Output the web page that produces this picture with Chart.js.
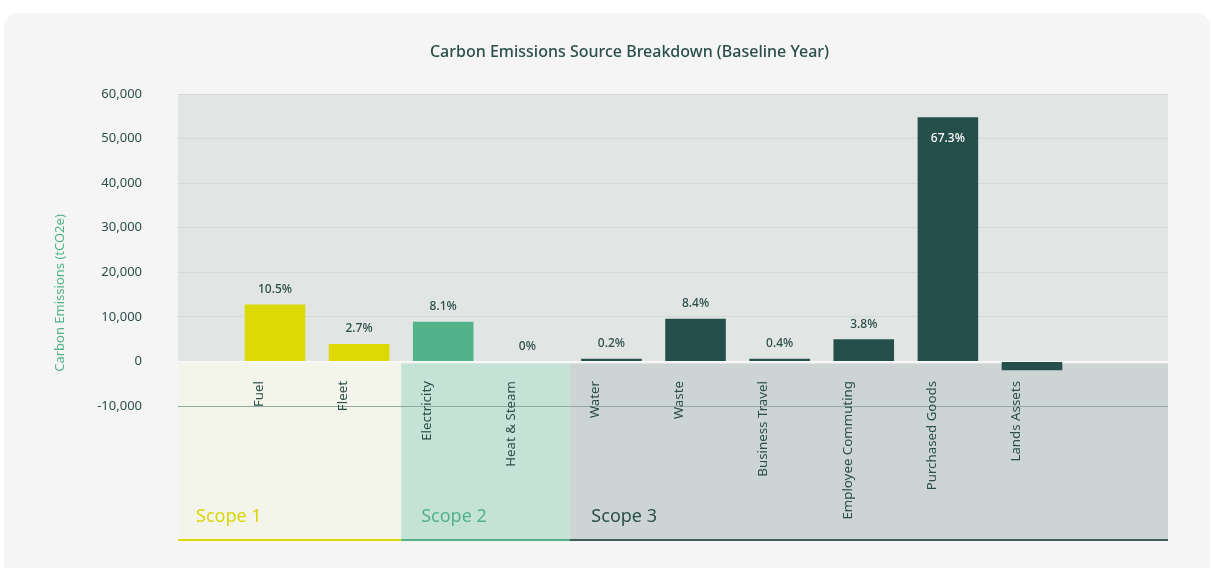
<!DOCTYPE html>
<html>
<head>
<meta charset="utf-8">
<script src="https://cdn.jsdelivr.net/npm/chart.js@4.4.1/dist/chart.umd.min.js"></script>
<style>
  body { margin: 0; background: #ffffff; overflow: hidden; }
  #card { position: absolute; left: 4px; top: 13px; width: 1206px; height: 600px; border-radius: 14px; background: #f5f5f5; }
  #emissionsChart { position: absolute; left: 0; top: 0; }
</style>
</head>
<body>
<div id="card"></div>
<canvas id="emissionsChart" width="1211" height="568"></canvas>

<script>
// values
var categories = ["Fuel", "Fleet", "Electricity", "Heat & Steam", "Water", "Waste",
  "Business Travel", "Employee Commuting", "Purchased Goods", "Lands Assets"];
var emissions = [12800, 3900, 8900, 0, 600, 9600, 600, 5000, 54800, -2000];
var shareLabels = ["10.5%", "2.7%", "8.1%", "0%", "0.2%", "8.4%", "0.4%", "3.8%", "67.3%", ""];
var scopeNames = ["Scope 1", "Scope 2", "Scope 3"];
var scopeOfCategory = [0, 0, 1, 1, 2, 2, 2, 2, 2, 2];
var yTicks = [-10000, 0, 10000, 20000, 30000, 40000, 50000, 60000];
var chartTitle = "Carbon Emissions Source Breakdown (Baseline Year)";
var yTitle = "Carbon Emissions (tCO2e)";

var barColors = ["#dcd906", "#52b38a", "#254f4a"];
var bandColors = ["#f4f5ea", "#c5e2d6", "#ccd5d3"];
var bandLineColors = ["#dcd906", "#52b38a", "#3d5f59"];
var scopeTextColors = ["#d9d60a", "#52b38a", "#2b4e48"];
var darkText = "#2b4e48";
var fontName = "'Noto Sans', sans-serif";

var scopeBands = {
  id: "scopeBands",
  beforeDraw: function(chart) {
    var ctx = chart.ctx, area = chart.chartArea;
    var x = chart.scales.x, y = chart.scales.y;
    var zeroY = y.getPixelForValue(0);
    var bandBottom = 540;
    ctx.save();
    // plot background above zero
    ctx.fillStyle = "#e1e5e4";
    ctx.fillRect(area.left, area.top, area.right - area.left, zeroY - area.top);
    // scope bands
    scopeNames.forEach(function(name, s) {
      var first = scopeOfCategory.indexOf(s);
      var last = scopeOfCategory.lastIndexOf(s);
      var left = first === 0 ? area.left : x.getPixelForValue(first - 0.5);
      var right = last === categories.length - 1 ? area.right : x.getPixelForValue(last + 0.5);
      ctx.fillStyle = bandColors[s];
      ctx.fillRect(left, zeroY + 2, right - left, bandBottom - zeroY - 2);
      ctx.fillStyle = bandLineColors[s];
      ctx.fillRect(left, bandBottom - 1, right - left, 2);
      ctx.fillStyle = scopeTextColors[s];
      ctx.font = "18px " + fontName;
      ctx.textAlign = "left";
      ctx.textBaseline = "middle";
      ctx.fillText(name, left + 18 + s * 2, 517);
    });
    // chart title, centred on the card
    ctx.fillStyle = darkText;
    ctx.font = "500 16px " + fontName;
    ctx.textAlign = "center";
    ctx.fillText(chartTitle, (chart.options.layout.padding.left + chart.width) / 2, 52);
    // y axis title
    ctx.translate(60, 293);
    ctx.rotate(-Math.PI / 2);
    ctx.fillStyle = "#52b38a";
    ctx.font = "13px " + fontName;
    ctx.fillText(yTitle, 0, 0);
    ctx.restore();
  },
  afterDatasetsDraw: function(chart) {
    var ctx = chart.ctx;
    var bars = chart.getDatasetMeta(0).data;
    ctx.save();
    ctx.font = "500 12px " + fontName;
    ctx.textAlign = "center";
    ctx.textBaseline = "middle";
    bars.forEach(function(bar, i) {
      if (emissions[i] < 0 || !shareLabels[i]) return;
      if (bar.base - bar.y > 80) {
        ctx.fillStyle = "#ffffff";
        ctx.fillText(shareLabels[i], bar.x, bar.y + 21);
      } else {
        ctx.fillStyle = darkText;
        ctx.fillText(shareLabels[i], bar.x, bar.y - 15);
      }
    });
    ctx.restore();
  }
};

var chart = new Chart("emissionsChart", {
  type: "bar",
  data: {
    datasets: [{
      data: emissions.map(function(v, i) { return { x: i, y: v }; }),
      backgroundColor: scopeOfCategory.map(function(s) { return barColors[s]; }),
      borderWidth: 0
    }]
  },
  options: {
    responsive: false,
    animation: false,
    devicePixelRatio: 1,
    layout: { padding: { left: 48, right: 43, top: 94, bottom: 0 } },
    plugins: {
      legend: { display: false },
      tooltip: { enabled: false },
      title: { display: false }
    },
    scales: {
      x: {
        type: "linear",
        offset: false,
        min: -1.153,
        max: 10.617,
        grid: { display: false, drawTicks: false },
        border: { display: false },
        afterBuildTicks: function(scale) {
          scale.ticks = categories.map(function(c, i) { return { value: i }; });
        },
        afterFit: function(scale) { scale.height = 162; },
        ticks: {
          autoSkip: false,
          minRotation: 90,
          maxRotation: 90,
          mirror: true,
          padding: 25,
          color: darkText,
          font: { family: fontName, size: 13.3 },
          callback: function(value) { return categories[value] || ""; }
        }
      },
      y: {
        min: -10000,
        max: 60000,
        afterBuildTicks: function(scale) {
          scale.ticks = yTicks.map(function(v) { return { value: v }; });
        },
        afterFit: function(scale) { scale.width = 130; },
        border: { display: false },
        grid: {
          drawTicks: false,
          color: function(c) {
            if (c.tick.value === 0) return "rgba(255,255,255,0.7)";
            if (c.tick.value === -10000) return "#93a9a2";
            return "#d4dad8";
          }
        },
        ticks: {
          padding: 36,
          color: darkText,
          font: { family: fontName, size: 13 },
          callback: function(v) { return v.toLocaleString("en-US"); }
        }
      }
    }
  },
  plugins: [scopeBands]
});
</script>
</body>
</html>
